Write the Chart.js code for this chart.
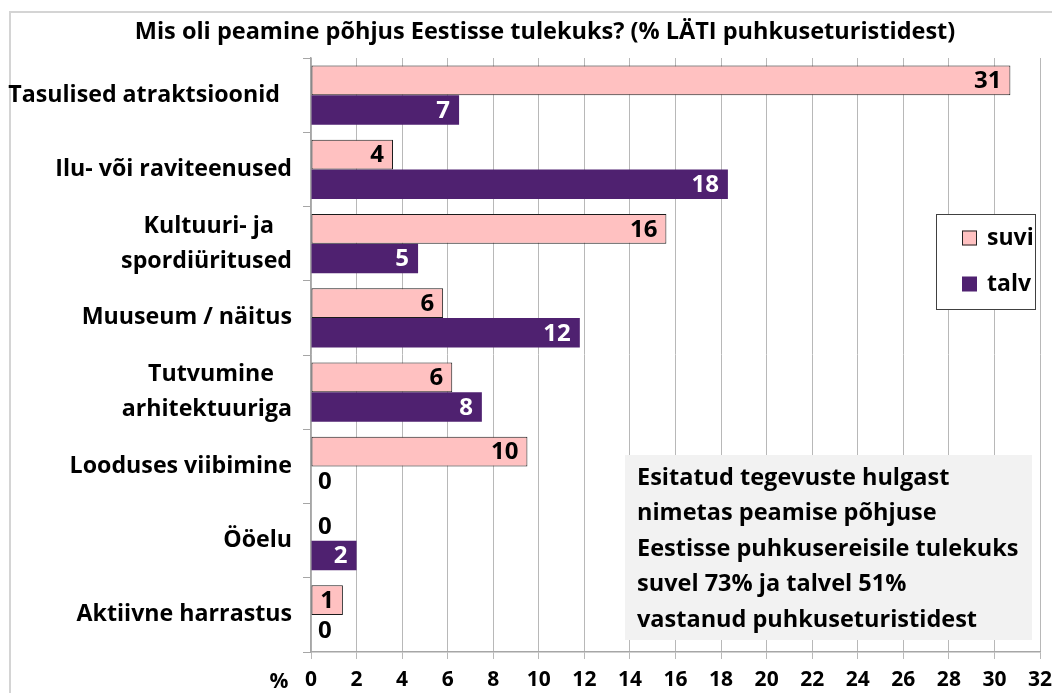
<!DOCTYPE html>
<html><head><meta charset="utf-8">
<script src="https://cdn.jsdelivr.net/npm/chart.js@4.4.1/dist/chart.umd.min.js"></script>
<style>
html,body{margin:0;padding:0;background:#fff;}
#wrap{position:relative;width:1052px;height:693px;overflow:hidden;}
#frame{position:absolute;left:9px;top:11px;width:1100px;height:800px;border-left:2px solid #d4d4d4;border-top:2px solid #d4d4d4;}
canvas{position:absolute;left:0;top:0;}
</style></head><body>
<div id="wrap"><div id="frame"></div><canvas id="c" width="1052" height="693"></canvas></div>
<script>
const NB = '\u00A0';
const categories = [
  'Tasulised atraktsioonid' + NB + NB,
  'Ilu- või raviteenused',
  ['Kultuuri- ja' + NB + NB + NB, 'spordiüritused'],
  'Muuseum / näitus',
  ['Tutvumine' + NB + NB + NB, 'arhitektuuriga'],
  'Looduses viibimine',
  'Ööelu',
  'Aktiivne harrastus'
];
const seriesNames = ['suvi', 'talv'];
const suvi = [30.7, 3.6, 15.6, 5.8, 6.2, 9.5, 0, 1.4];
const talv = [6.5, 18.3, 4.7, 11.8, 7.5, 0, 2.0, 0];
const suviLabels = ['31', '4', '16', '6', '6', '10', '0', '1'];
const talvLabels = ['7', '18', '5', '12', '8', '0', '2', '0'];
const xMin = 0, xMax = 32, xStep = 2;
const xUnit = '%';
const titleText = 'Mis oli peamine põhjus Eestisse tulekuks? (% LÄTI puhkuseturistidest)';
const noteLines = [
  'Esitatud tegevuste hulgast',
  'nimetas peamise põhjuse',
  'Eestisse puhkusereisile tulekuks',
  'suvel 73% ja talvel 51%',
  'vastanud puhkuseturistidest'
];

const FONT = '"Open Sans", "Noto Sans", sans-serif';
const PINK = '#FFC1C1', PURPLE = '#4F2170';
const labelSets = [suviLabels, talvLabels];

const extras = {
  id: 'extras',
  afterDatasetsDraw(chart) {
    const ctx = chart.ctx, ca = chart.chartArea;
    ctx.save();
    ctx.font = 'bold 24px ' + FONT;
    ctx.textBaseline = 'middle';
    chart.data.datasets.forEach((ds, di) => {
      const meta = chart.getDatasetMeta(di);
      meta.data.forEach((el, i) => {
        const v = ds.data[i];
        const txt = labelSets[di][i];
        if (v === 0) {
          ctx.fillStyle = '#000';
          ctx.textAlign = 'left';
          ctx.fillText(txt, ca.left + 7, el.y + 1);
        } else {
          ctx.fillStyle = di === 0 ? '#000' : '#fff';
          ctx.textAlign = 'right';
          ctx.fillText(txt, el.x - 9, el.y + 1);
        }
      });
    });
    ctx.restore();
  },
  afterDraw(chart) {
    const ctx = chart.ctx, ca = chart.chartArea;
    ctx.save();
    // title
    ctx.font = 'bold 23.5px ' + FONT;
    ctx.fillStyle = '#000';
    ctx.textAlign = 'center';
    ctx.textBaseline = 'middle';
    ctx.fillText(titleText, 545, 32);
    // unit
    ctx.font = 'bold 21px ' + FONT;
    ctx.textAlign = 'center';
    ctx.fillText(xUnit, 279, 682);
    // legend
    const lx = ca.right - 104, ly = 214, lw = 99, lh = 95;
    ctx.fillStyle = '#fff';
    ctx.fillRect(lx, ly, lw, lh);
    ctx.strokeStyle = '#404040';
    ctx.lineWidth = 1;
    ctx.strokeRect(lx + 0.5, ly + 0.5, lw, lh);
    const colors = [PINK, PURPLE];
    ctx.font = 'bold 23px ' + FONT;
    ctx.textAlign = 'left';
    seriesNames.forEach((n, k) => {
      const cy = ly + 24 + k * 46;
      ctx.fillStyle = colors[k];
      ctx.fillRect(lx + 26, cy - 7.5, 15, 15);
      if (k === 0) { ctx.strokeStyle = '#222'; ctx.strokeRect(lx + 26.5, cy - 7, 14, 14); }
      ctx.fillStyle = '#000';
      ctx.fillText(n, lx + 51, cy);
    });
    // note box
    ctx.fillStyle = '#F2F2F2';
    ctx.fillRect(625, 455, 407, 185);
    ctx.fillStyle = '#000';
    ctx.font = 'bold 23.5px ' + FONT;
    noteLines.forEach((t, k) => ctx.fillText(t, 637, 478 + k * 35.5));
    ctx.restore();
  }
};

new Chart(document.getElementById('c'), {
  type: 'bar',
  data: {
    labels: categories,
    datasets: [
      { label: seriesNames[0], data: suvi, backgroundColor: PINK, borderColor: '#1a1a1a',
        borderWidth: c => (c.raw === 0 ? 0 : 1), borderSkipped: false,
        categoryPercentage: 0.8, barPercentage: 1.0 },
      { label: seriesNames[1], data: talv, backgroundColor: PURPLE, borderColor: PURPLE,
        borderWidth: 0, categoryPercentage: 0.8, barPercentage: 1.0 }
    ]
  },
  options: {
    indexAxis: 'y',
    responsive: false,
    animation: false,
    devicePixelRatio: 1,
    layout: { padding: { top: 58, right: 12, left: 0, bottom: 0 } },
    plugins: { legend: { display: false }, title: { display: false }, tooltip: { enabled: false } },
    scales: {
      x: {
        type: 'linear', min: xMin, max: xMax, position: 'bottom',
        ticks: { stepSize: xStep, font: { family: FONT, size: 21, weight: 'bold' }, color: '#000', padding: 8 },
        grid: { color: '#b8b8b8', lineWidth: 1, tickLength: 7, drawTicks: true },
        border: { color: '#a6a6a6', width: 1.5 },
        afterFit: s => { s.height = 41; s.paddingRight = 0; s.paddingLeft = 0; }
      },
      y: {
        offset: true,
        ticks: { font: { family: FONT, size: 23.2, weight: 'bold', lineHeight: 1.5 }, color: '#000', padding: 11, labelOffset: 0, autoSkip: false },
        grid: { drawOnChartArea: false, offset: true, tickLength: 8, color: '#a6a6a6' },
        border: { color: '#a6a6a6', width: 1.5 },
        afterFit: s => { s.width = 311; }
      }
    }
  },
  plugins: [extras]
});
</script>
</body></html>
